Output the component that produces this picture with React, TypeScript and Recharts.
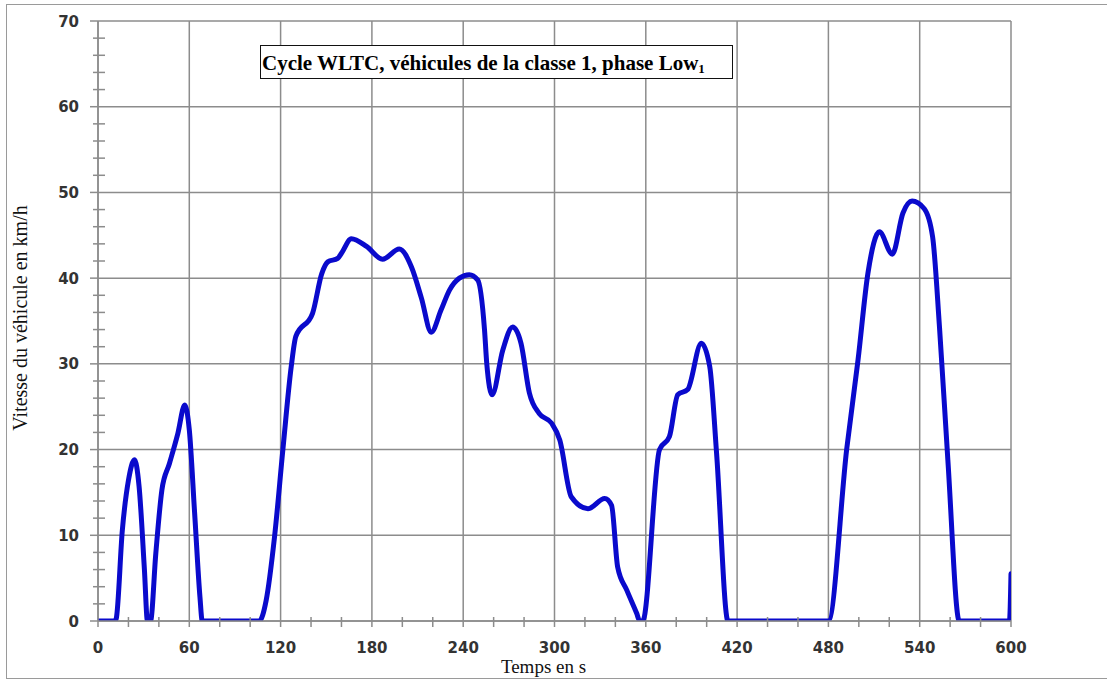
import React from 'react';
import { LineChart, Line, XAxis, YAxis, ReferenceLine, Label } from 'recharts';

// Time (s) and vehicle speed (km/h)
const timeSeconds = [
  0, 11, 12, 16, 20, 24, 27, 30.5, 32.5, 34.5, 38, 42, 47, 52.5, 57, 60, 63.5, 67, 68.5,
  106, 110.5, 116, 121.5, 127, 130, 141, 147, 151, 157.5, 160, 166.5, 176.5, 187, 198, 206,
  212.5, 219, 225.5, 231, 237.5, 244, 249.5, 254, 255.5, 259, 266, 272.5, 278, 283.5, 290,
  298, 303.5, 311, 322, 333, 337.5, 341.5, 347.5, 354, 356, 358, 369, 375.5, 381, 387.5, 396.5,
  402, 406.5, 414, 480, 492, 499.5, 506, 513.5, 522, 529, 535, 543, 548.5, 553, 558.5, 566,
  599, 600,
];
const speedKmh = [
  0, 0, 0.3, 10.6, 16.4, 18.8, 15.7, 6, 0, 0, 7.9, 15.3, 18.4, 21.9, 25.2, 22.3, 12.6, 2.8, 0,
  0, 2.4, 9.8, 20, 29.7, 33.2, 35.9, 40.5, 41.9, 42.3, 42.9, 44.6, 43.7, 42.2, 43.4, 41.3,
  37.7, 33.7, 36.3, 38.6, 40, 40.4, 39.8, 34, 30, 26.4, 31.6, 34.3, 32.4, 26.6, 24.2,
  23.1, 21.1, 14.5, 13.1, 14.3, 13.5, 6.3, 3.6, 0.9, 0, 0, 20, 21.5, 26.4, 27, 32.4,
  29.7, 19.6, 0, 0, 20, 30.5, 40.6, 45.4, 42.8, 47.6, 49, 48.1, 44.8, 34.3, 18.8, 0,
  0, 5.5,
];

const xMajorTicks = [0, 60, 120, 180, 240, 300, 360, 420, 480, 540, 600];
const xMinorTicks = [
  0, 20, 40, 60, 80, 100, 120, 140, 160, 180, 200, 220, 240, 260, 280, 300,
  320, 340, 360, 380, 400, 420, 440, 460, 480, 500, 520, 540, 560, 580, 600,
];
const yMajorTicks = [0, 10, 20, 30, 40, 50, 60, 70];
const yMinorTicks = [
  0, 2, 4, 6, 8, 10, 12, 14, 16, 18, 20, 22, 24, 26, 28, 30, 32, 34, 36, 38,
  40, 42, 44, 46, 48, 50, 52, 54, 56, 58, 60, 62, 64, 66, 68, 70,
];

const titleText = 'Cycle WLTC, véhicules de la classe 1, phase Low';
const titleSub = '1';
const xLabel = 'Temps en s';
const yLabel = 'Vitesse du véhicule en km/h';

const data = timeSeconds.map((t, i) => ({ t, v: speedKmh[i] }));

const GRID = '#8c8c8c';
const TICK_FONT = "'DejaVu Sans', Verdana, sans-serif";
const SERIF = "'Liberation Serif', 'Times New Roman', serif";

const XTick = (props: any) => {
  const { x, y, payload } = props;
  const val = payload.value;
  const major = xMajorTicks.includes(val);
  return (
    <g>
      <line x1={x} x2={x} y1={major ? y : y - 4} y2={y + 6} stroke={GRID} strokeWidth={1.5} />
      {major && (
        <text x={x} y={y + 32} textAnchor="middle" fontFamily={TICK_FONT} fontWeight="bold" fontSize={15} fill="#333">
          {val}
        </text>
      )}
    </g>
  );
};

const YTick = (props: any) => {
  const { x, y, payload } = props;
  const val = payload.value;
  const major = yMajorTicks.includes(val);
  return (
    <g>
      <line x1={major ? x - 8 : x - 5} x2={major ? x : x + 7} y1={y} y2={y} stroke={GRID} strokeWidth={1.5} />
      {major && (
        <text x={x - 19} y={y + 5.5} textAnchor="end" fontFamily={TICK_FONT} fontWeight="bold" fontSize={15} fill="#333">
          {val}
        </text>
      )}
    </g>
  );
};

export default function App() {
  return (
    <div style={{ position: 'absolute', left: 0, top: 0, width: 1107, height: 680, overflow: 'hidden', background: '#fff' }}>
      <div
        style={{
          position: 'absolute', left: 6, top: 4, width: 1130, height: 675,
          border: '1.5px solid #9a9a9a', boxSizing: 'border-box',
        }}
      />
      <div style={{ position: 'absolute', left: 0, top: 0 }}>
        <LineChart width={1107} height={680} data={data} margin={{ top: 21, right: 96, bottom: 29, left: 38 }}>
          {xMajorTicks.map((v) => (
            <ReferenceLine key={'vx' + v} x={v} stroke={GRID} strokeWidth={1.5} zIndex={-100} />
          ))}
          {yMajorTicks.map((v) => (
            <ReferenceLine key={'hy' + v} y={v} stroke={GRID} strokeWidth={1.5} zIndex={-100} />
          ))}
          <XAxis
            dataKey="t"
            type="number"
            domain={[0, 600]}
            ticks={xMinorTicks}
            interval={0}
            tickSize={0}
            tickMargin={0}
            tickLine={false}
            tick={<XTick />}
            axisLine={{ stroke: GRID, strokeWidth: 1.5 }}
            height={30}
            allowDataOverflow
          >
            <Label
              content={(p: any) => {
                const vb = p.viewBox || { x: 98, y: 621, width: 913, height: 30 };
                return (
                  <text x={vb.x + vb.width / 2 - 11} y={vb.y + 52} textAnchor="middle" fontFamily={SERIF} fontSize={19} fill="#111">
                    {xLabel}
                  </text>
                );
              }}
            />
          </XAxis>
          <YAxis
            type="number"
            domain={[0, 70]}
            ticks={yMinorTicks}
            interval={0}
            tickSize={0}
            tickMargin={0}
            tickLine={false}
            tick={<YTick />}
            axisLine={{ stroke: GRID, strokeWidth: 1.5 }}
            width={60}
            allowDataOverflow
          >
            <Label
              content={(p: any) => {
                const vb = p.viewBox || { x: 38, y: 21, width: 60, height: 600 };
                const cx = vb.x - 11;
                const cy = vb.y + vb.height / 2 - 3;
                return (
                  <text x={cx} y={cy} textAnchor="middle" transform={`rotate(-90, ${cx}, ${cy})`} fontFamily={SERIF} fontSize={20} fill="#111">
                    {yLabel}
                  </text>
                );
              }}
            />
          </YAxis>
          <Line
            type="monotone"
            dataKey="v"
            stroke="#0a0acc"
            strokeWidth={5}
            dot={false}
            activeDot={false}
            isAnimationActive={false}
            strokeLinejoin="round"
            strokeLinecap="round"
          />
        </LineChart>
      </div>
      <div
        style={{
          position: 'absolute', left: 260, top: 45, width: 473, height: 34,
          border: '1.5px solid #111', boxSizing: 'border-box', background: '#fff',
          fontFamily: SERIF, fontWeight: 'bold', fontSize: 21, lineHeight: '30px',
          paddingTop: 2, paddingLeft: 1, whiteSpace: 'nowrap', color: '#000',
        }}
      >
        {titleText}
        <sub style={{ fontSize: 13, lineHeight: 0, verticalAlign: '-3px' }}>{titleSub}</sub>
      </div>
    </div>
  );
}
